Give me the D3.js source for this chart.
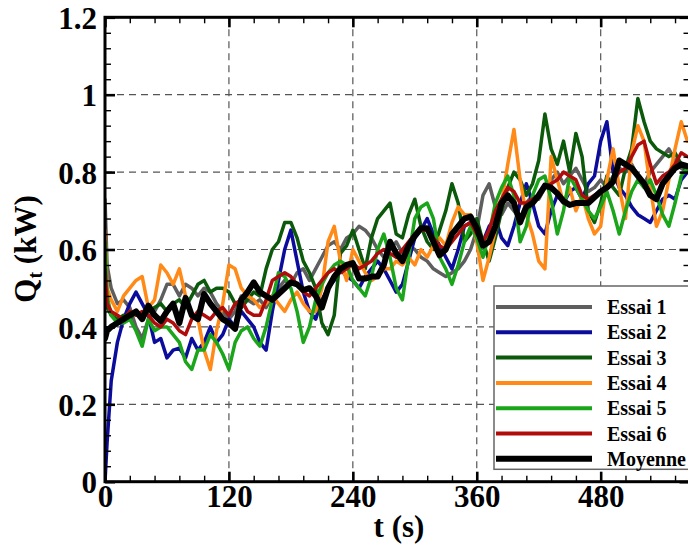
<!DOCTYPE html>
<html><head><meta charset="utf-8">
<script src="https://cdn.jsdelivr.net/npm/d3@7"></script>
<style>body{margin:0;background:#fff} svg{display:block}</style>
</head><body><svg id="c" width="688" height="545"></svg>
<script>
// ---- DATA ----
const times = [0,2,6,12,18,24,30,36,42,48,
54,60,66,72,78,84,90,96,102,108,
114,120,126,132,138,144,150,156,162,168,
174,180,186,192,198,204,210,216,222,228,
234,240,246,252,258,264,270,276,282,288,
294,300,306,312,318,324,330,336,342,348,
354,360,366,372,378,384,390,396,402,408,
414,420,426,432,438,444,450,456,462,468,
474,480,486,492,498,504,510,516,522,528,
534,540,546,552,558,564];

const essai1 = [0.73,0.56,0.50,0.46,0.47,0.45,0.40,0.37,0.42,0.44,
0.47,0.51,0.51,0.48,0.51,0.50,0.48,0.50,0.49,0.46,
0.44,0.42,0.44,0.48,0.47,0.46,0.47,0.45,0.48,0.50,
0.52,0.51,0.54,0.55,0.52,0.55,0.58,0.61,0.62,0.60,
0.63,0.64,0.66,0.65,0.63,0.60,0.58,0.60,0.62,0.59,
0.61,0.60,0.58,0.57,0.55,0.54,0.53,0.54,0.55,0.57,
0.60,0.65,0.74,0.77,0.71,0.69,0.72,0.70,0.68,0.72,
0.74,0.73,0.76,0.78,0.80,0.77,0.79,0.81,0.78,0.75,
0.76,0.78,0.76,0.79,0.81,0.80,0.82,0.79,0.77,0.80,
0.82,0.84,0.86,0.83,0.81,0.80];

const essai2 = [0.00,0.10,0.26,0.36,0.42,0.46,0.49,0.46,0.43,0.36,
0.37,0.32,0.34,0.345,0.32,0.37,0.34,0.36,0.40,0.36,
0.38,0.42,0.40,0.44,0.42,0.40,0.36,0.34,0.44,0.52,
0.60,0.65,0.57,0.49,0.44,0.42,0.47,0.50,0.52,0.55,
0.53,0.52,0.50,0.53,0.55,0.57,0.55,0.52,0.49,0.51,
0.57,0.63,0.65,0.68,0.64,0.61,0.58,0.55,0.60,0.66,
0.67,0.64,0.62,0.66,0.68,0.63,0.61,0.66,0.72,0.77,
0.72,0.66,0.64,0.70,0.74,0.72,0.75,0.76,0.73,0.77,
0.79,0.88,0.93,0.80,0.76,0.74,0.71,0.69,0.68,0.67,
0.70,0.73,0.74,0.73,0.78,0.80];

const essai3 = [0.50,0.45,0.43,0.42,0.43,0.42,0.44,0.42,0.44,0.45,
0.46,0.44,0.46,0.47,0.45,0.48,0.51,0.52,0.49,0.50,
0.50,0.49,0.46,0.45,0.47,0.49,0.48,0.55,0.60,0.62,
0.67,0.67,0.63,0.57,0.54,0.50,0.41,0.38,0.43,0.59,
0.61,0.65,0.60,0.55,0.63,0.68,0.70,0.72,0.64,0.63,
0.69,0.73,0.66,0.62,0.60,0.65,0.70,0.77,0.72,0.62,
0.64,0.68,0.62,0.57,0.63,0.70,0.76,0.80,0.78,0.74,
0.77,0.83,0.95,0.86,0.82,0.88,0.80,0.90,0.84,0.70,
0.67,0.72,0.79,0.76,0.74,0.81,0.86,0.99,0.93,0.88,
0.86,0.85,0.84,0.85,0.82,0.80];

const essai4 = [0.65,0.50,0.47,0.44,0.48,0.50,0.52,0.53,0.45,0.47,
0.56,0.54,0.51,0.55,0.48,0.43,0.42,0.34,0.29,0.39,
0.46,0.56,0.55,0.50,0.48,0.47,0.45,0.46,0.48,0.46,
0.44,0.47,0.49,0.46,0.44,0.44,0.50,0.62,0.66,0.57,
0.52,0.60,0.57,0.54,0.52,0.53,0.55,0.55,0.57,0.56,
0.58,0.56,0.60,0.58,0.61,0.63,0.61,0.67,0.71,0.69,
0.69,0.62,0.52,0.58,0.65,0.72,0.82,0.91,0.78,0.69,
0.64,0.57,0.55,0.84,0.78,0.72,0.76,0.70,0.74,0.68,
0.64,0.66,0.78,0.86,0.76,0.68,0.85,0.92,0.88,0.76,
0.66,0.70,0.78,0.86,0.93,0.88];

const essai5 = [0.62,0.48,0.43,0.41,0.41,0.42,0.39,0.35,0.42,0.39,
0.40,0.40,0.38,0.36,0.31,0.29,0.34,0.34,0.38,0.36,
0.33,0.29,0.36,0.39,0.40,0.37,0.35,0.40,0.47,0.54,
0.53,0.50,0.44,0.36,0.40,0.47,0.51,0.54,0.56,0.57,
0.56,0.52,0.50,0.48,0.53,0.60,0.64,0.58,0.50,0.47,
0.58,0.68,0.71,0.72,0.68,0.58,0.55,0.51,0.56,0.62,
0.66,0.63,0.58,0.64,0.72,0.76,0.79,0.74,0.62,0.66,
0.74,0.78,0.79,0.73,0.64,0.70,0.79,0.76,0.73,0.70,
0.68,0.71,0.75,0.70,0.64,0.70,0.75,0.78,0.76,0.78,
0.74,0.69,0.66,0.72,0.79,0.81];

const essai6 = [0.55,0.46,0.44,0.43,0.42,0.44,0.43,0.44,0.43,0.41,
0.40,0.42,0.41,0.39,0.38,0.42,0.44,0.43,0.42,0.44,
0.45,0.43,0.46,0.47,0.44,0.43,0.43,0.47,0.52,0.53,
0.54,0.53,0.51,0.49,0.48,0.50,0.52,0.54,0.55,0.54,
0.55,0.565,0.55,0.56,0.57,0.59,0.60,0.59,0.58,0.60,
0.62,0.64,0.65,0.65,0.63,0.61,0.60,0.62,0.64,0.66,
0.67,0.64,0.62,0.65,0.70,0.73,0.76,0.75,0.72,0.72,
0.73,0.74,0.76,0.77,0.78,0.80,0.79,0.78,0.74,0.73,
0.74,0.75,0.76,0.78,0.80,0.81,0.84,0.87,0.88,0.82,
0.77,0.79,0.80,0.82,0.85,0.84];

const moyenne = [0.37,0.39,0.40,0.41,0.42,0.43,0.44,0.42,0.455,0.43,
0.415,0.44,0.46,0.41,0.475,0.43,0.42,0.485,0.46,0.44,
0.42,0.41,0.395,0.47,0.49,0.515,0.49,0.48,0.47,0.485,
0.50,0.515,0.51,0.495,0.50,0.48,0.45,0.50,0.53,0.55,
0.56,0.565,0.525,0.525,0.53,0.53,0.56,0.62,0.59,0.57,
0.61,0.635,0.655,0.655,0.62,0.585,0.60,0.64,0.66,0.68,
0.685,0.655,0.61,0.62,0.66,0.72,0.74,0.72,0.67,0.71,
0.72,0.74,0.765,0.76,0.745,0.725,0.715,0.72,0.72,0.72,
0.735,0.75,0.76,0.775,0.83,0.82,0.81,0.79,0.77,0.74,
0.73,0.77,0.79,0.81,0.82,0.815];

const seriesNames = ["Essai 1","Essai 2","Essai 3","Essai 4","Essai 5","Essai 6","Moyenne"];
const seriesValues = [essai1, essai2, essai3, essai4, essai5, essai6, moyenne];
const xTickValues = [0,120,240,360,480];
const yTickValues = [0,0.2,0.4,0.6,0.8,1,1.2];
const xLabel = "t (s)";

// ---- STYLE ----
const colors = ["#5e5e5e","#0c0c9c","#0b5a0b","#ff8a17","#1ba51b","#b00c0c","#000000"];
const widths = [3.5,3.5,3.5,3.5,3.5,3.5,6];
const legendWidths = [4,4,4,4,4,4,6];
const FONT = "'Liberation Serif','Times New Roman',serif";

const L = 105, R = 689.5, T = 17.3, B = 481.7;
const x = d3.scaleLinear().domain([0, 566]).range([L, R]);
const y = d3.scaleLinear().domain([0, 1.2]).range([B, T]);

const svg = d3.select("#c");
svg.append("rect").attr("width",688).attr("height",545).attr("fill","#fff");

// grid
const grid = svg.append("g").attr("stroke","#555").attr("stroke-width",1.2).attr("stroke-dasharray","7,5");
xTickValues.filter(v => v > 0).forEach(v => {
  grid.append("line").attr("x1",x(v)).attr("x2",x(v)).attr("y1",T).attr("y2",B);
});
yTickValues.filter(v => v > 0 && v < 1.2).forEach(v => {
  grid.append("line").attr("x1",L).attr("x2",R).attr("y1",y(v)).attr("y2",y(v));
});

// clip
svg.append("clipPath").attr("id","clip").append("rect")
  .attr("x",L).attr("y",T).attr("width",R-L).attr("height",B-T);

const line = d3.line().x((d,i) => x(times[i])).y(d => y(d));
const gl = svg.append("g").attr("clip-path","url(#clip)");
seriesValues.forEach((vals, k) => {
  gl.append("path").datum(vals)
    .attr("d", line)
    .attr("fill","none")
    .attr("stroke", colors[k])
    .attr("stroke-width", widths[k])
    .attr("stroke-linejoin","round")
    .attr("stroke-linecap","round");
});

// minor ticks values
const xMinor = d3.range(0, 567, 24).filter(v => !xTickValues.includes(v));
const yMinor = d3.range(0, 1.2001, 0.04).map(v => +v.toFixed(2)).filter(v => !yTickValues.some(t => Math.abs(t - v) < 1e-6));

function styleAxis(g, major) {
  g.select(".domain").remove();
  g.selectAll(".tick line").attr("stroke","#000").attr("stroke-width", major ? 2.6 : 1.4);
}

// bottom
svg.append("g").attr("transform",`translate(0,${B})`)
  .call(d3.axisBottom(x).tickValues(xMinor).tickSizeInner(-6).tickSizeOuter(0).tickFormat(""))
  .call(g => styleAxis(g,false));
const gb = svg.append("g").attr("transform",`translate(0,${B})`)
  .call(d3.axisBottom(x).tickValues(xTickValues).tickSizeInner(-10).tickSizeOuter(0).tickPadding(3).tickFormat(d3.format("d")))
  .call(g => styleAxis(g,true));
gb.selectAll(".tick text").attr("font-family",FONT).attr("font-weight","bold").attr("font-size",31).attr("fill","#000");

// top
svg.append("g").attr("transform",`translate(0,${T})`)
  .call(d3.axisTop(x).tickValues(xMinor).tickSizeInner(-6).tickSizeOuter(0).tickFormat(""))
  .call(g => styleAxis(g,false));
svg.append("g").attr("transform",`translate(0,${T})`)
  .call(d3.axisTop(x).tickValues(xTickValues).tickSizeInner(-10).tickSizeOuter(0).tickFormat(""))
  .call(g => styleAxis(g,true));

// left
svg.append("g").attr("transform",`translate(${L},0)`)
  .call(d3.axisLeft(y).tickValues(yMinor).tickSizeInner(-6).tickSizeOuter(0).tickFormat(""))
  .call(g => styleAxis(g,false));
const gy = svg.append("g").attr("transform",`translate(${L},0)`)
  .call(d3.axisLeft(y).tickValues(yTickValues).tickSizeInner(-10).tickSizeOuter(0).tickPadding(8).tickFormat(d => d3.format("")(d)))
  .call(g => styleAxis(g,true));
gy.selectAll(".tick text").attr("font-family",FONT).attr("font-weight","bold").attr("font-size",31).attr("fill","#000").attr("dy","0.36em");

// right
svg.append("g").attr("transform",`translate(${R},0)`)
  .call(d3.axisRight(y).tickValues(yMinor).tickSizeInner(-6).tickSizeOuter(0).tickFormat(""))
  .call(g => styleAxis(g,false));
svg.append("g").attr("transform",`translate(${R},0)`)
  .call(d3.axisRight(y).tickValues(yTickValues).tickSizeInner(-10).tickSizeOuter(0).tickFormat(""))
  .call(g => styleAxis(g,true));

// frame
svg.append("rect").attr("x",L).attr("y",T).attr("width",R-L).attr("height",B-T)
  .attr("fill","none").attr("stroke","#000").attr("stroke-width",3);

// axis titles
svg.append("text").attr("x",399).attr("y",537).attr("text-anchor","middle")
  .attr("font-family",FONT).attr("font-weight","bold").attr("font-size",31).text(xLabel);
const yt = svg.append("text").attr("transform","translate(36,249) rotate(-90)")
  .attr("text-anchor","middle").attr("font-family",FONT).attr("font-weight","bold").attr("font-size",31);
yt.append("tspan").text("Q");
yt.append("tspan").attr("font-size",20).attr("dy",6).text("t");
yt.append("tspan").attr("dy",-6).text(" (kW)");

// legend
const lg = svg.append("g");
lg.append("rect").attr("x",494).attr("y",286).attr("width",260).attr("height",183.3)
  .attr("fill","#fff").attr("stroke","#666").attr("stroke-width",1.5);
seriesNames.forEach((name,k) => {
  const yy = 307 + k*25.3;
  lg.append("line").attr("x1",496).attr("x2",592).attr("y1",yy).attr("y2",yy)
    .attr("stroke",colors[k]).attr("stroke-width",legendWidths[k]);
  lg.append("text").attr("x",607).attr("y",yy+7).attr("font-family",FONT)
    .attr("font-weight","bold").attr("font-size",20).attr("fill","#000").text(name);
});
</script>
</body></html>
